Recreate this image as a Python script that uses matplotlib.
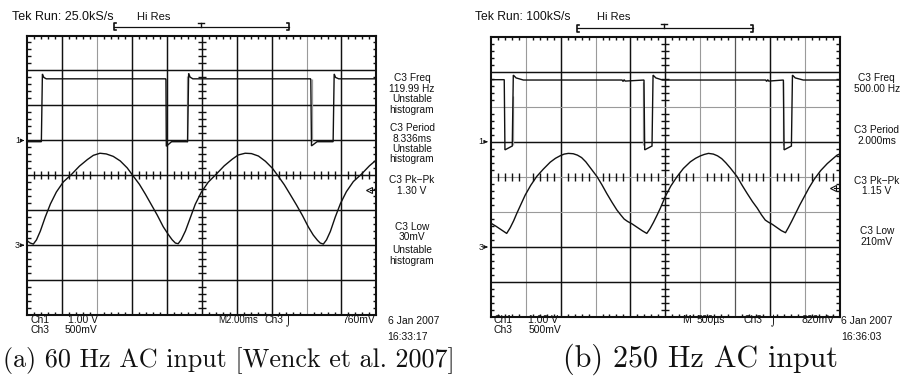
import matplotlib
matplotlib.use('Agg')
import matplotlib.pyplot as plt
from matplotlib.collections import LineCollection
from matplotlib import font_manager

# ---------------- data (oscilloscope divisions: x 0..10, y 0..8) ----------------
left_ch1_x = [0.00, 0.40, 0.43, 0.47, 0.54, 3.96, 3.97, 3.98, 4.13, 4.59, 4.62, 4.66, 4.74,
              8.11, 8.12, 8.14, 8.30, 8.76, 8.79, 8.83, 8.92, 10.00]
left_ch1_y = [4.96, 4.96, 6.90, 6.80, 6.76, 6.76, 6.74, 4.83, 4.96, 4.96, 6.92, 6.81, 6.76,
              6.76, 6.74, 4.84, 4.96, 4.96, 6.90, 6.80, 6.76, 6.76]
left_ch1_jitter_x = [4.56, 8.15]
left_ch1_jitter_lo = [4.96, 4.96]
left_ch1_jitter_hi = [6.85, 6.76]

left_ch3_x = [0.00, 0.08,
              0.17, 0.26, 0.37, 0.51, 0.66, 0.83, 1.03, 1.26, 1.49, 1.72, 1.89, 2.08, 2.26,
              2.46, 2.66, 2.86, 3.03, 3.21, 3.38, 3.55, 3.72, 3.89, 4.04, 4.15, 4.24,
              4.32, 4.41, 4.53, 4.67, 4.81, 4.98, 5.18, 5.41, 5.64, 5.87, 6.04, 6.24, 6.42,
              6.62, 6.82, 7.02, 7.19, 7.36, 7.53, 7.71, 7.88, 8.05, 8.19, 8.31, 8.39,
              8.48, 8.57, 8.68, 8.82, 8.97, 9.14, 9.34, 9.57, 9.80, 10.00]
left_ch3_y = [2.12, 2.06,
              2.03, 2.15, 2.40, 2.80, 3.18, 3.52, 3.81, 4.02, 4.26, 4.45, 4.57, 4.63, 4.61,
              4.54, 4.41, 4.21, 3.98, 3.74, 3.46, 3.16, 2.86, 2.53, 2.30, 2.15, 2.06,
              2.04, 2.16, 2.41, 2.79, 3.17, 3.51, 3.80, 4.03, 4.27, 4.46, 4.58, 4.63, 4.62,
              4.55, 4.40, 4.20, 3.97, 3.73, 3.45, 3.15, 2.85, 2.52, 2.29, 2.14, 2.06,
              2.03, 2.15, 2.39, 2.80, 3.19, 3.53, 3.82, 4.03, 4.27, 4.44]

right_ch1_x = [0.00, 0.38, 0.40, 0.61, 0.64, 0.72, 0.93, 3.76, 3.79, 3.82, 3.85, 4.39, 4.41,
               4.62, 4.65, 4.73, 4.92, 7.88, 7.91, 7.94, 7.97, 8.39, 8.41, 8.62, 8.65, 8.73,
               8.96, 10.00]
right_ch1_y = [6.77, 6.77, 4.77, 4.88, 6.90, 6.82, 6.76, 6.76, 6.72, 6.77, 6.73, 6.76, 4.77,
               4.88, 6.90, 6.82, 6.76, 6.76, 6.72, 6.77, 6.73, 6.76, 4.77, 4.88, 6.90, 6.82,
               6.76, 6.76]
right_ch1_jitter_x = [0.62, 4.37, 8.37]
right_ch1_jitter_lo = [4.90, 4.90, 4.90]
right_ch1_jitter_hi = [6.30, 6.70, 6.70]

right_ch3_x = [0.00, 0.15, 0.30,
               0.45, 0.55, 0.65, 0.74, 0.86, 0.98, 1.14, 1.31, 1.50, 1.70, 1.85, 1.98, 2.10,
               2.22, 2.36, 2.48, 2.60, 2.72, 2.85, 3.04, 3.18, 3.32, 3.47, 3.61, 3.72, 3.82,
               3.92, 4.05, 4.20, 4.35,
               4.47, 4.56, 4.66, 4.76, 4.86, 5.00, 5.16, 5.34, 5.52, 5.72, 5.87, 6.01, 6.12,
               6.24, 6.38, 6.50, 6.62, 6.74, 6.87, 7.06, 7.20, 7.35, 7.50, 7.64, 7.76, 7.87,
               7.96, 8.07, 8.20, 8.33,
               8.45, 8.53, 8.63, 8.74, 8.86, 8.98, 9.12, 9.28, 9.46, 9.65, 9.80, 9.93, 10.00]
right_ch3_y = [2.68, 2.59, 2.49,
               2.39, 2.55, 2.75, 2.96, 3.22, 3.48, 3.76, 4.01, 4.22, 4.42, 4.53, 4.60, 4.65,
               4.67, 4.66, 4.62, 4.55, 4.43, 4.26, 4.01, 3.78, 3.53, 3.28, 3.06, 2.92, 2.80,
               2.73, 2.66, 2.56, 2.46,
               2.39, 2.52, 2.70, 2.90, 3.11, 3.44, 3.74, 4.01, 4.24, 4.43, 4.53, 4.60, 4.64,
               4.67, 4.65, 4.60, 4.52, 4.40, 4.25, 4.01, 3.77, 3.53, 3.30, 3.11, 2.92, 2.77,
               2.71, 2.65, 2.56, 2.47,
               2.41, 2.55, 2.74, 2.96, 3.20, 3.42, 3.68, 3.94, 4.18, 4.38, 4.51, 4.62, 4.65]

left_trigger_level = 3.58
right_trigger_level = 3.67

left_header = ["Tek Run: 25.0kS/s", "Hi Res"]
right_header = ["Tek Run: 100kS/s", "Hi Res"]
left_meas = ["C3 Freq", "119.99 Hz", "Unstable", "histogram",
             "C3 Period", "8.336ms", "Unstable", "histogram",
             "C3 Pk\u2212Pk", "1.30 V",
             "C3 Low", "30mV", "Unstable", "histogram"]
right_meas = ["C3 Freq", "500.00 Hz", "C3 Period", "2.000ms",
              "C3 Pk\u2212Pk", "1.15 V", "C3 Low", "210mV"]
left_scale = ["Ch1", "1.00 V", "Ch3", "500mV", "M2.00ms", "Ch3", "\u2321", "760mV"]
right_scale = ["Ch1", "1.00 V", "Ch3", "500mV", "M", "500\u00b5s", "Ch3", "\u2321", "820mV"]
left_stamp = ["6 Jan 2007", "16:33:17"]
right_stamp = ["6 Jan 2007", "16:36:03"]
captions = ["(a) 60 Hz AC input [Wenck et al. 2007]", "(b) 250 Hz AC input"]

# ---------------- layout ----------------
W, H = 909, 377
_names = {f.name for f in font_manager.fontManager.ttflist}
SANS = ['Liberation Sans', 'DejaVu Sans']
SERIF = ['cmr10', 'DejaVu Serif'] if 'cmr10' in _names else ['DejaVu Serif']
INK = '#111111'
GRAY = '#9a9a9a'
FS = 7.5

fig = plt.figure(figsize=(W / 100, H / 100), dpi=100)
fig.patch.set_facecolor('white')


def add_scope(x0, x1, ytop, ybot):
    ax = fig.add_axes([x0 / W, 1 - ybot / H, (x1 - x0) / W, (ybot - ytop) / H])
    ax.set_xlim(0, 10)
    ax.set_ylim(0, 8)
    ax.set_xticks([])
    ax.set_yticks([])
    for s in ax.spines.values():
        s.set_linewidth(1.5)
        s.set_color(INK)
        s.set_zorder(5)
    return ax


def draw_grid(ax, vcols, hcols):
    sty = {'k': (INK, 1.05), 'g': (GRAY, 0.8), 'd': ('#555555', 0.9)}
    for i, c in enumerate(vcols, start=1):
        col, lw = sty[c]
        ax.axvline(i, color=col, lw=lw, zorder=1)
    for i, c in enumerate(hcols, start=1):
        col, lw = sty[c]
        ax.axhline(i, color=col, lw=lw, zorder=1)
    segs = []
    for k in range(1, 50):
        t = k * 0.2
        if abs(t - round(t)) < 1e-6:
            continue
        segs += [[(t, 0), (t, 0.1)], [(t, 8), (t, 7.9)], [(t, 3.89), (t, 4.11)]]
    for k in range(1, 40):
        u = k * 0.2
        if abs(u - round(u)) < 1e-6:
            continue
        segs += [[(0, u), (0.1, u)], [(10, u), (9.9, u)], [(4.89, u), (5.11, u)]]
    ax.add_collection(LineCollection(segs, colors=INK, linewidths=1.0, zorder=2))


def draw_traces(ax, c1x, c1y, jx, jlo, jhi, c3x, c3y, trig):
    ax.vlines(jx, jlo, jhi, colors=GRAY, lw=0.9, zorder=3)
    ax.plot(c1x, c1y, color=INK, lw=1.0, zorder=4, solid_joinstyle='miter')
    ax.plot(c3x, c3y, color=INK, lw=1.0, zorder=4)
    ax.plot([9.80], [trig], marker='<', ms=4.5, mfc='white', mec=INK, mew=0.8, zorder=6)
    ax.plot([9.83, 9.97], [trig, trig], color=INK, lw=0.8, zorder=6)


axL = add_scope(27.4, 376.4, 35.5, 315.0)
draw_grid(axL, ['k', 'g', 'k', 'k', 'k', 'k', 'k', 'g', 'k'], ['k'] * 7)
draw_traces(axL, left_ch1_x, left_ch1_y, left_ch1_jitter_x, left_ch1_jitter_lo,
            left_ch1_jitter_hi, left_ch3_x, left_ch3_y, left_trigger_level)

axR = add_scope(491.0, 839.5, 36.5, 317.3)
draw_grid(axR, ['g', 'k', 'g', 'k', 'k', 'g', 'd', 'k', 'g'],
          ['k', 'k', 'g', 'g', 'k', 'g', 'k'])
draw_traces(axR, right_ch1_x, right_ch1_y, right_ch1_jitter_x, right_ch1_jitter_lo,
            right_ch1_jitter_hi, right_ch3_x, right_ch3_y, right_trigger_level)

# overlay in pixel coordinates
ov = fig.add_axes([0, 0, 1, 1], zorder=10)
ov.set_xlim(0, W)
ov.set_ylim(H, 0)
ov.axis('off')
ov.patch.set_alpha(0)

fits = []


def ptext(s, x0, yc, x1=None, size=FS, family=SANS, ha='left', va='center'):
    t = ov.text(x0, yc, s, fontsize=size, family=family, ha=ha, va=va, color=INK)
    if x1 is not None:
        fits.append((t, x1 - x0, size))
    return t


# headers
ptext(left_header[0], 11.7, 17.0, x1=113.3)
ptext(left_header[1], 137.3, 16.5, size=8.0)
ptext(right_header[0], 475.0, 17.5, x1=570.0)
ptext(right_header[1], 597.3, 16.5, size=8.0)

# trigger position brackets
for (xa, xb, xt, yl) in [(114.3, 289.0, 201.0, 26.7), (577.3, 752.7, 664.0, 28.0)]:
    ov.plot([xa, xb], [yl, yl], color=INK, lw=0.9)
    ov.plot([xa + 2, xa, xa, xa + 2], [yl - 3.5, yl - 3.5, yl + 3.5, yl + 3.5], color=INK, lw=1.2)
    ov.plot([xb - 2, xb, xb, xb - 2], [yl - 3.5, yl - 3.5, yl + 3.5, yl + 3.5], color=INK, lw=1.2)
    ov.plot([xt - 3, xt + 3], [yl - 4, yl - 4], color=INK, lw=1.0)
    ov.plot([xt, xt], [yl - 4, yl], color=INK, lw=1.0)

# ground markers
for (x, y, s) in [(27.0, 140.5, '1'), (27.0, 245.2, '3'), (490.5, 141.8, '1'), (490.5, 247.0, '3')]:
    ov.text(x - 7, y, s, fontsize=6.5, family=SANS, ha='right', va='center', color=INK)
    ov.annotate('', xy=(x, y), xytext=(x - 7, y),
                arrowprops=dict(arrowstyle='-|>', lw=0.7, color=INK, mutation_scale=5))

# measurement readouts
left_meas_y = [78.0, 88.7, 99.3, 110.0, 128.3, 139.0, 149.3, 159.5, 180.0, 190.5,
               226.5, 237.0, 250.0, 261.0]
for s, y in zip(left_meas, left_meas_y):
    ptext(s, 412.0, y, size=7.3, ha='center')
right_meas_y = [78.0, 88.5, 130.0, 141.0, 181.0, 191.5, 231.5, 242.0]
for s, y in zip(right_meas, right_meas_y):
    ptext(s, 876.7, y, size=7.3, ha='center')

# scale readouts
ptext(left_scale[0], 30.7, 320.0)
ptext(left_scale[1], 68.3, 320.0)
ptext(left_scale[2], 30.7, 330.0)
ptext(left_scale[3], 65.0, 330.0)
ptext(left_scale[4], 218.0, 320.0, size=7.0)
ptext(left_scale[5], 264.5, 320.0)
ptext(left_scale[6], 286.0, 320.0, size=7.0, family=['DejaVu Sans'])
ptext(left_scale[7], 375.0, 320.0, ha='right')

ptext(right_scale[0], 493.3, 320.0)
ptext(right_scale[1], 528.3, 320.0)
ptext(right_scale[2], 493.3, 330.0)
ptext(right_scale[3], 528.3, 330.0)
ptext(right_scale[4], 681.7, 320.0)
ptext(right_scale[5], 696.7, 320.0)
ptext(right_scale[6], 743.3, 320.0)
ptext(right_scale[7], 770.5, 320.0, size=7.0, family=['DejaVu Sans'])
ptext(right_scale[8], 835.0, 320.0, ha='right')

ptext(left_stamp[0], 387.7, 321.0)
ptext(left_stamp[1], 387.7, 336.7)
ptext(right_stamp[0], 841.0, 321.0)
ptext(right_stamp[1], 841.0, 336.7)

# captions
ptext(captions[0], 3.0, 366.5, x1=455.0, size=17, family=SERIF, va='baseline')
ptext(captions[1], 563.3, 366.5, x1=838.3, size=17, family=SERIF, va='baseline')

fig.canvas.draw()
r = fig.canvas.get_renderer()
for t, w, size in fits:
    bw = t.get_window_extent(r).width
    if bw > 0:
        t.set_fontsize(size * w / bw)

fig.savefig('out.png', dpi=100, facecolor='white')
